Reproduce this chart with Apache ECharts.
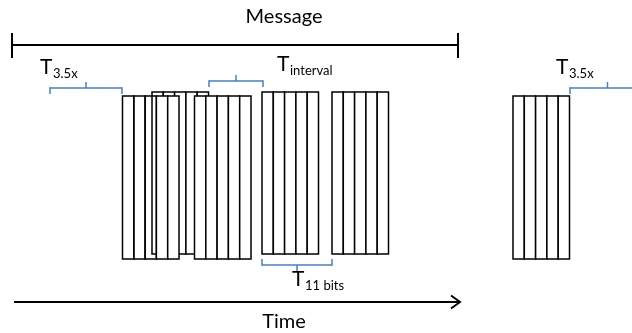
<!DOCTYPE html>
<html><head><meta charset="utf-8">
<script src="https://cdn.jsdelivr.net/npm/echarts@6/dist/echarts.min.js"></script>
<style>html,body{margin:0;padding:0;background:#fff}#c{width:632px;height:333px}</style>
</head><body><div id="c"></div>
<script>
// ---- data (time in px-equivalent units along the horizontal time axis) ----
const messageSpan = [12, 458];
const timeArrowSpan = [14, 460];
const bitTime = 11.3;
const frameStarts = [152, 122.5, 194.5, 262, 332, 513];
const frameBits = [5, 5, 5, 5, 5, 5];
const frameLevel = [1, 0, 0, 1, 1, 0];          // 1 = raised frame
const frameOpaqueFrom = [0, 3, 0, 0, 0, 0];     // first cell that hides what is behind
const bracketSpans = [[50, 122], [209, 263], [262, 332], [570, 645]];
const bracketSide = ['top', 'top', 'bottom', 'top'];
const labelMain = ['T', 'T', 'T', 'T'];
const labelSub = ['3.5x', 'interval', '11 bits', '3.5x'];
const titleTop = 'Message';
const titleBottom = 'Time';

// ---- layout ----
const FONT = 'Lato, "Open Sans", sans-serif';
const rowTop = [96, 92], rowBottom = [259, 254];
const bracketY = [88, 81, 265, 88];
const labelAnchor = [[40, 67], [277, 64], [292, 279], [556, 67]];
const BLUE = '#4a7ebb';

const chart = echarts.init(document.getElementById('c'), null, {renderer: 'canvas'});

function seg(api, x1, y1, x2, y2, stroke, w) {
  const a = api.coord([x1, y1]), b = api.coord([x2, y2]);
  return {type: 'line', shape: {x1: a[0], y1: a[1], x2: b[0], y2: b[1]},
          style: {stroke: stroke, lineWidth: w, lineCap: 'butt'}};
}

const frameData = frameStarts.map((s, i) => [s, frameBits[i], frameLevel[i]]);
const bracketData = bracketSpans.map((b, i) => [b[0], b[1]]);

const option = {
  animation: false,
  grid: {left: 0, right: 0, top: 0, bottom: 0},
  xAxis: {type: 'value', min: 0, max: 632, show: false},
  yAxis: {type: 'value', min: 0, max: 333, inverse: true, show: false},
  series: [
    { // frames of bits
      type: 'custom', coordinateSystem: 'cartesian2d', data: frameData, z: 2,
      renderItem: function (params, api) {
        const i = params.dataIndex;
        const start = api.value(0), bits = api.value(1), lvl = api.value(2);
        const top = rowTop[lvl], bot = rowBottom[lvl];
        const children = [];
        for (let k = 0; k < bits; k++) {
          const p0 = api.coord([start + k * bitTime, top]);
          const p1 = api.coord([start + (k + 1) * bitTime, bot]);
          children.push({type: 'rect',
            shape: {x: p0[0], y: p0[1], width: p1[0] - p0[0], height: p1[1] - p0[1]},
            style: {fill: k >= frameOpaqueFrom[i] ? '#fff' : 'none', stroke: '#000', lineWidth: 1.5}});
        }
        return {type: 'group', children: children};
      }
    },
    { // brackets
      type: 'custom', coordinateSystem: 'cartesian2d', data: bracketData, z: 3,
      renderItem: function (params, api) {
        const i = params.dataIndex;
        const a = api.value(0), b = api.value(1), y = bracketY[i];
        const d = bracketSide[i] === 'top' ? 1 : -1;
        const mid = (a + b) / 2;
        return {type: 'group', children: [
          seg(api, a, y, b, y, BLUE, 1.5),
          seg(api, a, y - 0.7 * d, a, y + 6 * d, BLUE, 1.5),
          seg(api, b, y - 0.7 * d, b, y + 6 * d, BLUE, 1.5),
          seg(api, mid, y, mid, y - 6 * d, BLUE, 1.5)
        ]};
      }
    },
    { // labels with subscripts
      type: 'custom', coordinateSystem: 'cartesian2d', data: labelSub.map((s, i) => [labelAnchor[i][0], labelAnchor[i][1]]), z: 4,
      renderItem: function (params, api) {
        const i = params.dataIndex;
        const p = api.coord([api.value(0), api.value(1)]);
        return {type: 'group', children: [
          {type: 'text', x: p[0], y: p[1], style: {text: labelMain[i], fill: '#000', font: '21px ' + FONT, align: 'left', verticalAlign: 'middle'}},
          {type: 'text', x: p[0] + 13, y: p[1] + 7, style: {text: labelSub[i], fill: '#000', font: '13px ' + FONT, align: 'left', verticalAlign: 'middle'}}
        ]};
      }
    },
    { // message span bar and time arrow
      type: 'custom', coordinateSystem: 'cartesian2d', data: [[messageSpan[0], messageSpan[1], timeArrowSpan[0], timeArrowSpan[1]]], z: 4,
      renderItem: function (params, api) {
        const m0 = api.value(0), m1 = api.value(1), t0 = api.value(2), t1 = api.value(3);
        const mc = api.coord([284, 17]);
        const tc = api.coord([284, 322]);
        return {type: 'group', children: [
          seg(api, m0, 45, m1, 45, '#000', 2),
          seg(api, m0, 33, m0, 58, '#000', 2),
          seg(api, m1, 33, m1, 58, '#000', 2),
          seg(api, t0, 302, t1, 302, '#000', 2),
          {type: 'polyline', shape: {points: [api.coord([t1 - 9, 295.5]), api.coord([t1, 302]), api.coord([t1 - 9, 308.5])]},
           style: {stroke: '#000', lineWidth: 2, fill: 'none'}},
          {type: 'text', x: mc[0], y: mc[1], style: {text: titleTop, fill: '#000', font: '20px ' + FONT, align: 'center', verticalAlign: 'middle'}},
          {type: 'text', x: tc[0], y: tc[1], style: {text: titleBottom, fill: '#000', font: '20px ' + FONT, align: 'center', verticalAlign: 'middle'}}
        ]};
      }
    }
  ]
};
chart.setOption(option);
</script></body></html>
